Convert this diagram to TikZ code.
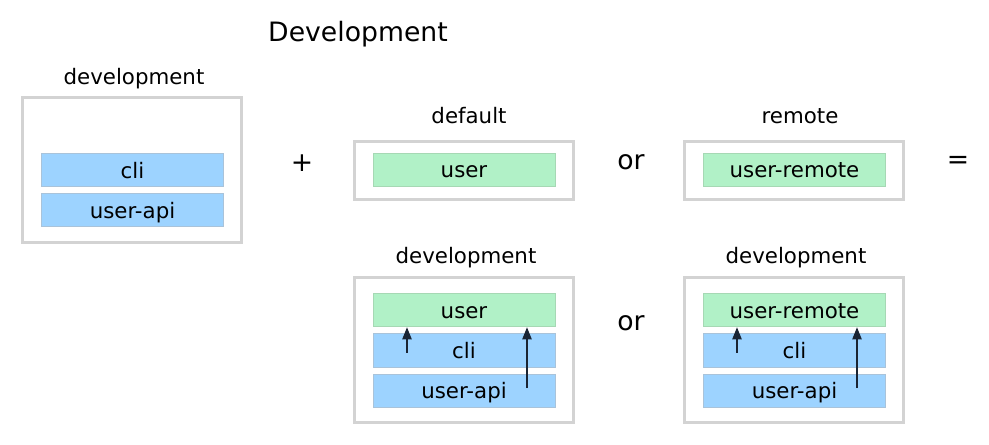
\documentclass[tikz,border=0pt]{standalone}
\usepackage{fontspec}
\setmainfont{DejaVu Sans}
\usetikzlibrary{arrows.meta,positioning,calc}
\definecolor{apiblue}{HTML}{9DD3FF}
\definecolor{apiline}{HTML}{A9C3DA}
\definecolor{usergreen}{HTML}{B1F1C7}
\definecolor{userline}{HTML}{A6D8B4}
\definecolor{envgray}{HTML}{D3D3D3}
\definecolor{depline}{HTML}{1A2433}

\begin{document}
\begin{tikzpicture}[
  x=0.75pt, y=-0.75pt,
  env/.style={draw=envgray, line width=2.25pt, minimum width=164.25pt, minimum height=108.75pt, inner sep=0pt},
  envshort/.style={env, minimum height=43.5pt},
  pkg/.style={draw, line width=0.75pt, minimum width=136.5pt, minimum height=24.75pt, inner sep=0pt,
    text height=12pt, text depth=0pt, font=\fontsize{16}{19}\selectfont},
  api/.style={pkg, draw=apiline, fill=apiblue},
  usr/.style={pkg, draw=userline, fill=usergreen},
  lbl/.style={anchor=base, inner sep=0pt, font=\fontsize{16}{19}\selectfont},
  op/.style={inner sep=0pt, font=\fontsize{20}{24}\selectfont},
  dep/.style={-{Triangle[length=9pt, width=7pt]}, line width=0.9pt, draw=depline, fill=depline}
]
\useasboundingbox (0,0) rectangle (989,445);

\node[anchor=base, inner sep=0pt, font=\fontsize{20}{24}\selectfont] (title) at (358,42) {Development};

% base environment
\node[env] (envDev) at (132,170) {};
\node[lbl] (lblDev) at (134,85) {development};
\node[api] (cliL) at (132.5,170.5) {cli};
\node[api] (apiL) at (132.5,210.5) {user-api};

\node[op] (plus) at (302,163) {+};

% overlays
\node[envshort] (envDefault) at (464,170.5) {};
\node[lbl] (lblDefault) at (469,124) {default};
\node[usr] (userD) at (464,170) {user};

\node[op] (orTop) at (631,162) {or};

\node[envshort] (envRemote) at (794,170.5) {};
\node[lbl] (lblRemote) at (800,124) {remote};
\node[usr] (userR) at (794.5,170) {user-remote};

\node[op] (equals) at (958,162) {=};

% results
\node[env] (envDevA) at (464,350) {};
\node[lbl] (lblDevA) at (466,264) {development};
\node[usr] (userA) at (464,310.3) {user};
\node[api] (cliA) at (464,350.5) {cli};
\node[api] (apiA) at (464,390.5) {user-api};

\node[op] (orBottom) at (631,323) {or};

\node[env] (envDevB) at (794,350) {};
\node[lbl] (lblDevB) at (796,264) {development};
\node[usr] (userB) at (794.5,310.3) {user-remote};
\node[api] (cliB) at (794.5,350.5) {cli};
\node[api] (apiB) at (794.5,390.5) {user-api};

% dependencies
\coordinate (cliTailA) at (407,353);
\coordinate (apiTailA) at (527,388);
\coordinate (cliTailB) at (737,353);
\coordinate (apiTailB) at (857,388);
\draw[dep] (cliTailA) -- (cliTailA |- userA.south);
\draw[dep] (apiTailA) -- (apiTailA |- userA.south);
\draw[dep] (cliTailB) -- (cliTailB |- userB.south);
\draw[dep] (apiTailB) -- (apiTailB |- userB.south);
\end{tikzpicture}
\end{document}
